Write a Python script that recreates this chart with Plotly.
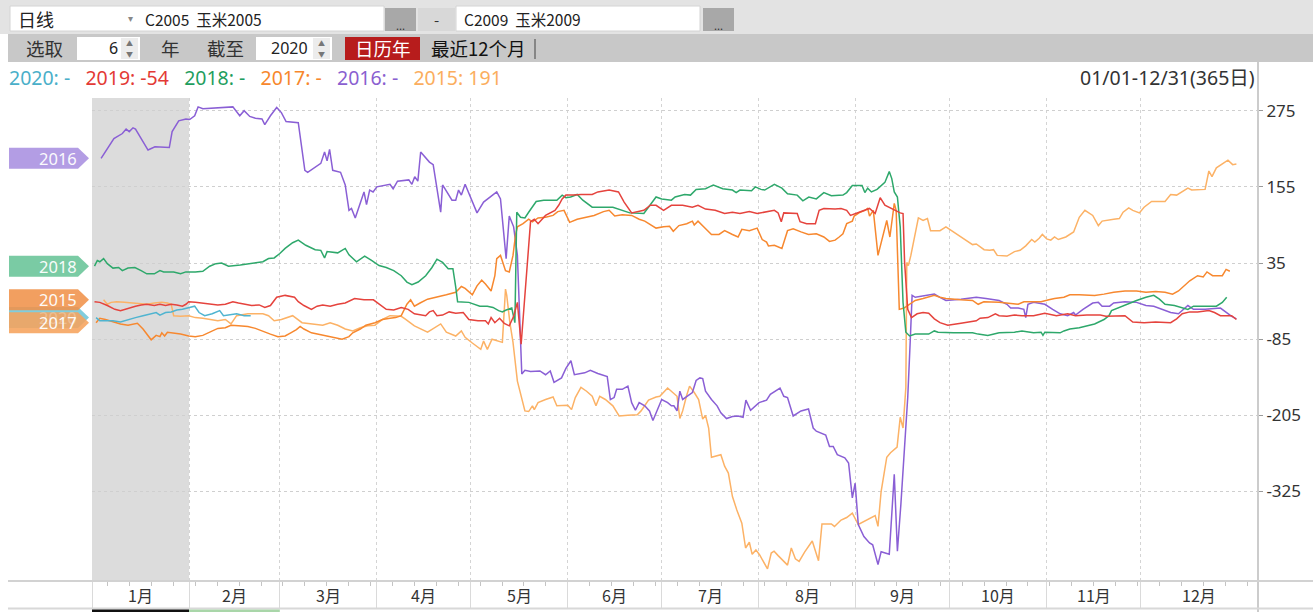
import plotly.graph_objects as go

# ---------------- data: (day offset from Jan 1, spread value) ----------------
s2020 = [(1.3,-51),(2.5,-56),(4.3,-56),(6.7,-56),(9.1,-58),(11.5,-54),(13.9,-51),(16.3,-48),(18.7,-45),(20.5,-43),
         (21.7,-47),(23.5,-43),(25.3,-42),(27.1,-39),(28.9,-38),(30.9,-35),(32.8,-33),(34.2,-43),(36.0,-48),(38.4,-45),
         (40.8,-40),(42.0,-48),(43.8,-47),(46.2,-45),(48.6,-48),(50.7,-48)]

s2019 = [(0.8,-26),(2.5,-27),(4.9,-32),(7.3,-38),(9.1,-40),(11.5,-36),(13.9,-33),(15.7,-31),(17.5,-30),(19.9,-32),
         (21.7,-30),(23.5,-32),(25.3,-30),(27.1,-31),(28.9,-33),(30.0,-30),(30.9,-26),(33.0,-27),(35.4,-28),(37.8,-30),
         (40.2,-31),(42.6,-30),(45.0,-26),(46.8,-28),(48.6,-30),(51.0,-32),(53.4,-31),(55.2,-35),(57.0,-32),(59.0,-19),
         (61.7,-16),(64.7,-19),(65.9,-26),(67.7,-32),(70.1,-38),(71.9,-33),(73.7,-31),(76.1,-33),(78.5,-30),(80.9,-28),
         (83.9,-21),(86.9,-23),(89.9,-23),(91.7,-30),(94.0,-38),(96.4,-39),(98.8,-35),(101.0,-38),(103.0,-45),(106.6,-48),
         (107.8,-42),(109.0,-40),(110.2,-48),(112.0,-47),(114.1,-42),(116.2,-44),(118.6,-43),(120.4,-54),(123.3,-56),(125.7,-56),
         (126.6,-61),(127.5,-51),(128.7,-59),(130.2,-52),(131.7,-60),(133.3,-64),(134.7,-49),(135.9,-27),(137.1,-93),(140.1,100),
         (141.3,104),(142.5,97),(144.9,110),(147.9,118),(149.1,126),(150.2,136),(151.4,142),(153.8,142),(156.2,143),(159.8,143),
         (161.6,147),(165.2,150),(168.2,147),(170.0,131),(172.4,114),(176.3,118),(178.4,126),(180.2,126),(182.6,118),(185.1,126),
         (188.7,126),(191.8,123),(193.6,126),(196.0,120),(199.1,118),(202.1,113),(204.6,115),(207.0,113),(210.0,116),(212.5,113),
         (214.9,115),(218.0,118),(219.2,114),(220.2,100),(221.0,114),(224.0,114),(225.3,113),(226.2,100),(228.3,97),(231.1,97),
         (232.3,118),(233.8,121),(237.4,120),(239.3,121),(241.1,118),(242.3,110),(244.8,115),(246.6,118),(248.4,121),(250.2,113),
         (251.8,138),(253.3,126),(255.7,120),(258.2,114),(259.1,113),(259.6,36),(260.6,-38),(261.8,-51),(263.6,-45),(265.5,-43),
         (267.3,-44),(269.1,-53),(270.9,-59),(273.4,-63),(277.6,-60),(282.5,-56),(283.7,-52),(286.2,-51),(288.6,-45),(289.8,-48),
         (292.3,-49),(294.7,-47),(297.1,-48),(300.8,-48),(304.4,-44),(308.1,-48),(311.7,-45),(314.2,-48),(317.8,-47),(322.1,-47),
         (323.9,-49),(330.0,-48),(332.5,-58),(336.1,-59),(339.8,-58),(344.6,-59),(346.5,-53),(348.3,-45),(350.7,-42),(353.2,-42),
         (356.8,-40),(358.6,-43),(360.5,-48),(364.1,-48),(365.6,-54)]

s2018 = [(0.8,30),(1.7,39),(2.5,37),(3.7,42),(4.9,34),(6.7,27),(8.5,28),(9.7,23),(11.5,27),(13.7,28),(15.7,23),(17.5,18),
         (19.9,18),(21.7,23),(22.9,21),(24.1,21),(26.1,21),(28.3,18),(30.0,21),(33.0,21),(35.4,22),(37.6,30),(39.6,34),(41.4,35),
         (43.6,30),(47.4,32),(52.2,35),(54.6,37),(56.4,42),(58.2,43),(60.0,50),(61.7,58),(64.1,67),(65.9,71),(68.3,63),(71.3,56),
         (73.1,55),(74.3,43),(75.1,53),(78.5,51),(80.9,58),(82.1,48),(84.5,37),(86.3,44),(87.1,46),(89.3,39),(91.7,31),(94.0,28),
         (96.4,23),(98.8,15),(100.6,5),(102.2,1),(104.2,5),(106.6,15),(108.6,28),(110.2,41),(112.0,36),(113.8,26),(115.3,26),
         (116.2,-3),(116.8,-26),(120.4,-27),(122.1,-30),(123.9,-33),(126.3,-33),(128.1,-35),(129.9,-40),(131.1,-42),(132.3,-39),
         (134.1,-36),(135.1,-59),(135.7,115),(136.9,107),(138.3,106),(139.5,115),(141.9,132),(144.3,134),(148.5,134),(150.2,142),
         (151.4,138),(152.9,139),(155.0,143),(156.8,134),(159.8,123),(166.4,123),(169.4,118),(171.8,114),(176.3,113),(178.4,126),
         (180.2,139),(182.0,136),(185.1,134),(186.3,139),(189.3,143),(191.2,142),(193.0,151),(196.0,152),(198.5,158),(201.5,152),
         (204.6,150),(205.8,146),(207.0,150),(210.7,149),(211.9,155),(213.7,151),(214.9,150),(218.0,159),(220.4,153),(222.2,144),
         (225.3,142),(227.1,133),(229.0,139),(231.4,136),(233.8,146),(236.2,141),(239.9,142),(241.1,146),(242.9,157),(246.0,157),
         (246.9,146),(247.8,153),(249.0,147),(250.8,151),(253.3,162),(254.7,179),(255.5,168),(256.3,147),(257.3,139),(258.2,92),
         (259.1,-27),(260.0,-74),(261.2,-80),(263.0,-77),(267.3,-77),(269.1,-72),(270.3,-74),(275.2,-75),(281.3,-75),(283.1,-77),
         (286.2,-79),(289.8,-75),(294.7,-74),(297.1,-72),(300.8,-75),(303.2,-74),(303.8,-79),(304.4,-74),(309.3,-75),(310.5,-72),
         (312.4,-69),(315.4,-67),(317.8,-64),(320.3,-61),(323.3,-54),(324.9,-48),(325.7,-40),(330.0,-31),(333.7,-24),(336.7,-19),
         (339.2,-16),(341.0,-22),(342.8,-30),(345.8,-32),(348.3,-35),(350.1,-38),(351.9,-33),(355.6,-33),(359.2,-33),(361.1,-27),
         (362.5,-19)]

s2017 = [(1.3,-59),(2.5,-52),(4.3,-54),(6.7,-58),(9.1,-61),(11.5,-63),(14.5,-60),(16.3,-69),(17.5,-77),(18.9,-86),(20.5,-79),
         (21.7,-81),(22.3,-75),(23.2,-80),(24.1,-74),(25.9,-75),(28.3,-77),(30.9,-80),(33.0,-81),(35.4,-79),(37.6,-74),(39.0,-72),
         (40.2,-68),(42.6,-67),(44.4,-63),(46.8,-64),(49.8,-65),(52.2,-68),(54.6,-73),(57.0,-77),(59.4,-81),(61.7,-80),(63.5,-75),
         (65.3,-70),(66.5,-65),(67.7,-69),(70.1,-75),(73.7,-79),(76.1,-81),(78.5,-84),(79.9,-85),(82.1,-81),(83.3,-75),(85.7,-69),
         (87.5,-63),(90.4,-59),(92.8,-54),(95.2,-52),(97.0,-51),(98.8,-48),(100.6,-30),(101.8,-23),(103.0,-33),(104.8,-28),
         (107.2,-22),(113.2,-15),(116.2,-11),(118.0,-2),(119.2,-5),(121.5,-15),(123.0,-1),(124.5,8),(125.7,2),(127.5,-9),
         (128.7,15),(129.3,42),(130.5,47),(132.1,23),(133.3,21),(134.5,47),(135.3,79),(135.9,92),(137.7,97),(139.5,104),
         (140.7,100),(142.5,106),(144.9,107),(147.3,110),(148.8,116),(150.8,118),(152.6,99),(155.0,104),(157.4,107),(160.4,110),
         (163.4,116),(165.2,118),(167.0,109),(169.4,111),(172.4,110),(174.8,104),(176.6,101),(179.0,93),(180.2,90),(182.6,92),
         (184.5,93),(185.7,85),(187.5,94),(190.0,97),(191.8,101),(192.4,95),(193.6,101),(195.4,92),(197.9,80),(200.3,80),
         (202.1,86),(204.6,80),(206.4,76),(207.6,88),(210.0,86),(212.5,90),(214.1,72),(215.5,68),(216.1,62),(218.0,63),
         (219.8,60),(220.4,58),(222.2,86),(224.0,89),(226.5,84),(228.9,80),(231.4,81),(233.8,76),(235.6,69),(237.4,71),
         (238.7,76),(239.9,81),(241.1,97),(242.9,101),(243.5,109),(245.4,115),(246.9,118),(247.8,121),(248.4,109),(249.6,118),
         (251.1,47),(252.7,79),(253.9,102),(254.9,76),(255.7,102),(256.3,129),(256.9,118),(257.9,-38),(259.4,-36),(261.2,-30),
         (263.0,-24),(265.5,-21),(269.1,-16),(270.9,-19),(272.8,-21),(277.6,-23),(281.3,-24),(283.1,-30),(284.9,-26),(289.8,-27),
         (295.9,-30),(297.7,-26),(303.2,-26),(305.7,-23),(307.5,-21),(310.5,-19),(312.4,-15),(315.4,-15),(320.3,-16),(323.3,-14),
         (326.4,-11),(330.0,-9),(333.7,-9),(336.7,-11),(339.8,-10),(342.8,-11),(345.2,-14),(347.1,-9),(348.9,-1),(350.7,7),
         (353.2,15),(355.0,13),(356.2,21),(358.0,15),(361.1,15),(362.3,25),(363.5,22)]

s2016 = [(2.9,200),(4.9,216),(7.0,231),(9.7,239),(10.9,246),(11.9,242),(13.1,248),(13.9,246),(15.7,231),(17.9,213),(20.1,218),
         (22.3,217),(24.7,217),(25.6,242),(27.7,259),(30.0,262),(31.2,261),(32.8,267),(33.9,281),(35.4,278),(40.2,279),(45.0,281),
         (47.2,267),(48.6,275),(50.4,266),(52.2,263),(54.3,262),(55.2,253),(57.0,267),(59.0,280),(60.5,272),(62.0,258),(65.9,256),
         (68.0,181),(68.9,178),(71.1,185),(73.1,192),(74.3,210),(75.1,196),(75.9,214),(76.9,181),(79.4,178),(80.9,158),(82.1,118),
         (82.9,121),(84.1,106),(85.7,129),(86.9,147),(87.7,127),(88.7,150),(89.8,147),(91.0,155),(95.2,159),(96.2,152),(97.6,164),
         (101.2,166),(102.2,159),(103.1,171),(104.1,164),(105.0,210),(107.8,194),(109.0,190),(111.4,115),(112.0,158),(115.0,134),
         (116.2,134),(117.1,150),(118.0,142),(119.2,159),(120.4,144),(123.0,114),(125.1,131),(129.3,147),(130.5,136),(132.3,42),
         (133.3,109),(134.7,92),(135.9,47),(136.9,-93),(137.3,-140),(138.3,-134),(140.1,-136),(143.1,-135),(144.9,-141),(146.4,-135),
         (147.6,-153),(150.0,-146),(151.4,-131),(153.0,-119),(154.1,-141),(157.4,-138),(159.2,-134),(161.6,-139),(164.6,-144),
         (165.6,-180),(166.8,-177),(167.6,-164),(169.4,-164),(171.2,-159),(172.4,-185),(173.6,-197),(174.8,-185),(176.6,-190),
         (178.1,-198),(179.2,-213),(180.2,-202),(182.0,-180),(183.9,-185),(185.1,-190),(185.9,-190),(186.9,-198),(187.8,-167),
         (188.7,-180),(191.8,-169),(193.0,-150),(194.2,-146),(195.1,-147),(196.0,-167),(197.9,-180),(199.7,-190),(200.9,-201),
         (202.7,-210),(204.6,-207),(206.4,-206),(208.0,-208),(208.9,-181),(210.4,-197),(213.1,-185),(215.5,-181),(216.7,-172),
         (219.8,-162),(221.0,-175),(222.2,-177),(224.0,-206),(226.5,-198),(228.9,-195),(230.4,-225),(231.4,-230),(234.4,-236),
         (235.6,-254),(236.8,-254),(238.1,-267),(240.5,-272),(241.7,-280),(242.9,-335),(243.8,-312),(244.8,-377),(246.6,-396),
         (248.4,-406),(249.4,-409),(251.1,-440),(252.1,-420),(254.7,-424),(256.3,-298),(257.3,-419),(258.4,-346),(259.6,-256),
         (260.6,-177),(261.4,-88),(262.0,-16),(263.0,-19),(266.1,-16),(269.1,-14),(270.9,-19),(272.8,-24),(277.6,-22),(282.5,-19),
         (285.6,-21),(289.8,-24),(292.3,-30),(293.5,-36),(295.9,-36),(297.7,-38),(298.3,-51),(299.0,-30),(300.8,-27),(304.4,-30),
         (306.9,-38),(309.3,-45),(311.7,-48),(313.6,-43),(314.2,-47),(316.6,-38),(319.7,-28),(321.5,-27),(322.7,-33),(325.1,-33),
         (326.4,-28),(330.0,-26),(333.7,-27),(336.7,-32),(339.2,-33),(342.2,-38),(344.6,-43),(347.1,-45),(348.9,-38),(350.1,-32),
         (351.9,-38),(355.6,-38),(360.5,-36),(362.3,-43),(364.1,-49),(365.6,-53)]

s2015 = [(3.7,-23),(4.9,-30),(6.1,-27),(7.9,-26),(10.3,-27),(12.7,-28),(15.1,-30),(17.5,-30),(19.9,-28),(22.3,-27),(24.1,-28),
         (25.3,-30),(26.1,-48),(28.3,-49),(30.9,-48),(33.0,-51),(35.4,-52),(37.8,-54),(40.2,-56),(42.6,-54),(44.4,-61),(46.2,-48),
         (49.8,-45),(52.2,-45),(54.6,-45),(56.4,-48),(58.2,-56),(60.5,-54),(64.1,-48),(67.1,-59),(70.1,-61),(73.7,-63),(76.1,-59),
         (78.5,-63),(80.9,-69),(83.3,-72),(85.7,-67),(88.1,-64),(90.4,-63),(92.8,-54),(95.2,-48),(98.8,-49),(100.0,-53),(103.0,-64),
         (107.2,-74),(111.4,-61),(113.2,-74),(116.2,-80),(118.0,-72),(119.2,-82),(121.5,-91),(124.2,-101),(125.1,-88),(126.3,-101),
         (127.8,-85),(129.3,-87),(131.1,-90),(132.1,-6),(132.5,-16),(133.5,-59),(134.5,-90),(135.9,-151),(137.1,-177),(138.3,-198),
         (139.5,-199),(140.7,-190),(141.3,-196),(142.5,-185),(144.9,-180),(147.3,-176),(148.5,-190),(150.9,-190),(152.0,-189),
         (153.2,-196),(154.4,-177),(156.2,-161),(158.0,-167),(159.8,-175),(161.0,-190),(162.2,-175),(164.0,-180),(166.4,-190),
         (168.4,-206),(171.2,-205),(174.2,-204),(175.4,-198),(177.8,-181),(180.2,-176),(181.4,-175),(183.9,-162),(185.1,-167),
         (186.9,-175),(187.8,-210),(188.7,-198),(189.9,-175),(190.9,-159),(192.4,-169),(193.8,-180),(195.1,-211),(196.0,-205),
         (197.0,-225),(197.9,-271),(200.9,-267),(202.1,-285),(203.3,-296),(204.6,-333),(206.0,-354),(207.6,-375),(208.8,-414),
         (210.0,-405),(210.9,-424),(212.1,-417),(213.3,-425),(214.5,-435),(215.8,-447),(217.0,-422),(217.9,-419),(219.2,-426),
         (221.0,-435),(222.2,-441),(223.4,-414),(224.7,-431),(225.9,-435),(227.7,-420),(230.1,-403),(232.1,-434),(233.2,-376),
         (236.2,-376),(237.2,-380),(239.3,-370),(241.1,-366),(242.9,-359),(244.8,-377),(247.2,-371),(250.2,-363),(251.1,-380),
         (252.1,-325),(253.9,-271),(255.1,-264),(257.2,-255),(258.2,-208),(259.1,-225),(260.0,-161),(260.3,36),(260.8,31),
         (261.6,47),(262.8,79),(264.0,106),(265.5,102),(266.9,105),(267.9,86),(270.9,86),(272.8,92),(275.2,84),(277.6,76),
         (280.1,68),(281.3,64),(282.5,65),(285.0,56),(286.8,55),(288.0,56),(289.2,47),(292.3,46),(294.7,53),(296.5,55),(298.3,62),
         (300.2,72),(301.2,68),(302.6,74),(303.6,80),(305.0,73),(306.3,71),(307.5,76),(308.7,72),(311.1,76),(313.6,84),(315.4,107),
         (317.2,118),(319.7,110),(321.5,94),(322.7,101),(326.4,104),(328.2,105),(329.4,115),(331.2,122),(332.5,118),(334.6,114),
         (336.1,123),(338.5,132),(342.8,132),(344.6,143),(346.5,142),(348.9,150),(350.1,153),(351.3,150),(355.6,151),(356.8,180),
         (357.8,171),(359.2,185),(362.9,197),(364.4,190),(365.6,191)]

years = ["2020", "2019", "2018", "2017", "2016", "2015"]
series = {"2020": s2020, "2019": s2019, "2018": s2018, "2017": s2017, "2016": s2016, "2015": s2015}
legend_values = {"2020": "-", "2019": "-54", "2018": "-", "2017": "-", "2016": "-", "2015": "191"}
line_colors = {"2020": "#4fb4d0", "2019": "#e5433d", "2018": "#2ea86b", "2017": "#f7882f", "2016": "#8a5fd5", "2015": "#fcb266"}
text_colors = {"2020": "#4aafc9", "2019": "#e33a35", "2018": "#1f9e5e", "2017": "#f7872c", "2016": "#8a5fd0", "2015": "#fbae5e"}
tag_colors = {"2016": "#a88fe0", "2018": "#68c497", "2020": "#6ec6d8", "2015": "#f0924a", "2017": "#f6a35c"}
tag_order = ["2016", "2018", "2020", "2015", "2017"]

month_starts = [0, 31, 60, 91, 121, 152, 182, 213, 244, 274, 305, 335]
month_labels = ["1月", "2月", "3月", "4月", "5月", "6月", "7月", "8月", "9月", "10月", "11月", "12月"]
X_MAX = 372.5
Y_MIN, Y_MAX = -466, 295
y_ticks = [275, 155, 35, -85, -205, -325]

# ---------------- layout helpers (page chrome, pixel -> paper) ----------------
W, H = 1313, 612
PL, PR, PT, PB = 92, 1258, 98, 581
FONT = "Noto Sans, Noto Sans CJK SC, sans-serif"
CJK = "Noto Sans CJK SC, Noto Sans, sans-serif"


def fx(x):
    return (x - PL) / (PR - PL)


def fy(y):
    return (PB - y) / (PB - PT)


shapes = []
annotations = []


def rect(x0, y0, x1, y1, fill, line=None):
    shapes.append(dict(type="rect", xref="paper", yref="paper", x0=fx(x0), x1=fx(x1), y0=fy(y1), y1=fy(y0),
                       fillcolor=fill, line=dict(color=line or fill, width=1 if line else 0), layer="above"))


def hline(x0, x1, y, color, width=1):
    shapes.append(dict(type="line", xref="paper", yref="paper", x0=fx(x0), x1=fx(x1), y0=fy(y), y1=fy(y),
                       line=dict(color=color, width=width), layer="above"))


def vline(x, y0, y1, color, width=1):
    shapes.append(dict(type="line", xref="paper", yref="paper", x0=fx(x), x1=fx(x), y0=fy(y0), y1=fy(y1),
                       line=dict(color=color, width=width), layer="above"))


def txt(x, y, s, size=18, color="#333333", anchor="left", family=CJK, opacity=1):
    annotations.append(dict(xref="paper", yref="paper", x=fx(x), y=fy(y), text=s, showarrow=False,
                            xanchor=anchor, yanchor="middle", borderpad=0, opacity=opacity,
                            font=dict(size=size, color=color, family=family)))


# January shading in plot
shapes.append(dict(type="rect", xref="x", yref="paper", x0=month_starts[0], x1=month_starts[1], y0=0, y1=1,
                   fillcolor="#dcdcdc", line=dict(width=0), layer="below"))

# toolbar row 1
rect(0, 0, W, 34, "#e3e3e3")
rect(10, 6, 384, 31, "#ffffff", "#d4d4d4")
rect(385, 8, 416, 31, "#a8a8a8")
rect(418, 8, 455, 31, "#d8d8d8")
rect(456, 6, 700, 31, "#ffffff", "#d4d4d4")
rect(703, 8, 734, 31, "#a8a8a8")
txt(17, 19, "日线", 18, "#222222")
txt(127, 17, "▾", 10, "#888888")
txt(144, 19, "C2005  玉米2005", 15.5, "#222222")
txt(400, 25, "...", 11, "#333333", "center")
txt(436, 19, "-", 15, "#333333", "center")
txt(463, 19, "C2009  玉米2009", 15.5, "#222222")
txt(718, 25, "...", 11, "#333333", "center")

# toolbar row 2
rect(8, 34, W, 62, "#c8c8c8")
rect(77, 37, 140, 60, "#ffffff")
rect(121, 38, 138, 59, "#ececec")
rect(256, 37, 332, 60, "#ffffff")
rect(313, 38, 330, 59, "#ececec")
rect(345, 37, 420, 60, "#b71c1c")
txt(129.5, 43, "▲", 7, "#777777", "center")
txt(129.5, 54, "▼", 7, "#777777", "center")
txt(321.5, 43, "▲", 7, "#777777", "center")
txt(321.5, 54, "▼", 7, "#777777", "center")
txt(25, 48, "选取", 18.5, "#333333")
txt(119, 48, "6", 16, "#222222", "right", FONT)
txt(160, 48, "年", 18.5, "#333333")
txt(206, 48, "截至", 18.5, "#333333")
txt(309, 48, "2020", 16, "#222222", "right", FONT)
txt(382.5, 48, "日历年", 18.5, "#ffffff", "center")
txt(430, 48, "最近12个月", 18.5, "#111111")
vline(535, 39, 59, "#444444", 1)

# legend row
gap = "&nbsp;" * 3
legend_text = gap.join(f"<span style='color:{text_colors[y]}'>{y}: {legend_values[y]}</span>" for y in years)
txt(8, 77, legend_text, 19.5, "#333333", "left", FONT)
txt(1256, 77, "01/01-12/31(365日)", 19.5, "#333333", "right", FONT)

# axis frame lines
vline(PR, 62, 612, "#cccccc", 2)
hline(8, W, PB, "#d2d2d2", 2)
hline(8, W, 608.5, "#d8d8d8", 2)
shapes.append(dict(type="rect", xref="x", yref="paper", x0=month_starts[0], x1=month_starts[1],
                   y0=fy(612), y1=fy(609.5), fillcolor="#111111", line=dict(width=0), layer="above"))
shapes.append(dict(type="rect", xref="x", yref="paper", x0=month_starts[1], x1=month_starts[2],
                   y0=fy(612), y1=fy(609.5), fillcolor="#a9d6a9", line=dict(width=0), layer="above"))

# month labels
edges = month_starts + [X_MAX]
for i, lab in enumerate(month_labels):
    annotations.append(dict(xref="x", yref="paper", x=(edges[i] + edges[i + 1]) / 2, y=fy(595), text=lab,
                            showarrow=False, xanchor="center", yanchor="middle",
                            font=dict(size=16, color="#333333", family=CJK)))

# year tags at first value of each series
for y in tag_order:
    v0 = series[y][0][1]
    shapes.append(dict(type="path", xref="paper", xsizemode="pixel", xanchor=0,
                       yref="y", ysizemode="pixel", yanchor=v0,
                       path="M -83 -10.5 L -14 -10.5 L -3 0 L -14 10.5 L -83 10.5 Z",
                       fillcolor=tag_colors[y], opacity=0.88, line=dict(width=0), layer="above"))
    annotations.append(dict(xref="paper", x=0, xshift=-14, xanchor="right", yref="y", y=v0, yanchor="middle",
                            text=y, showarrow=False, borderpad=0, opacity=0.25 if y == "2020" else 0.95,
                            font=dict(size=16.5, color="#ffffff", family=FONT)))

# ---------------- figure ----------------
fig = go.Figure()
for y in ["2015", "2016", "2017", "2018", "2019", "2020"]:
    pts = series[y]
    fig.add_trace(go.Scatter(x=[p[0] for p in pts], y=[p[1] for p in pts], mode="lines", name=y,
                             line=dict(color=line_colors[y], width=1.5), hoverinfo="skip"))

fig.update_layout(
    width=W, height=H, template="none",
    margin=dict(l=PL, r=W - PR, t=PT, b=H - PB, pad=0),
    paper_bgcolor="#ffffff", plot_bgcolor="#ffffff",
    showlegend=False, font=dict(family=FONT, color="#333333"),
    shapes=shapes, annotations=annotations,
    xaxis=dict(range=[0, X_MAX], tickmode="array", tickvals=month_starts, ticktext=[""] * len(month_starts),
               showgrid=True, gridcolor="#d4d4d4", griddash="dot", gridwidth=1,
               ticks="outside", ticklen=27, tickcolor="#dadada", tickwidth=1,
               showline=False, zeroline=False, automargin=False, fixedrange=True,
               minor=dict(ticks="outside", ticklen=4, tickcolor="#c4c4c4", tickmode="linear", tick0=5, dtick=7,
                          showgrid=False)),
    yaxis=dict(range=[Y_MIN, Y_MAX], side="right", tickmode="array", tickvals=y_ticks,
               ticktext=[str(t) for t in y_ticks], showgrid=True, gridcolor="#cfcfcf", griddash="dot",
               ticks="outside", ticklen=4, tickcolor="#9a9a9a", ticklabelstandoff=0,
               tickfont=dict(size=17, color="#333333", family=FONT),
               showline=False, zeroline=False, automargin=False, fixedrange=True),
)

fig.write_html("out.html", config={"displayModeBar": False},
               post_script="document.body.style.margin='0px';document.body.style.overflow='hidden';")
